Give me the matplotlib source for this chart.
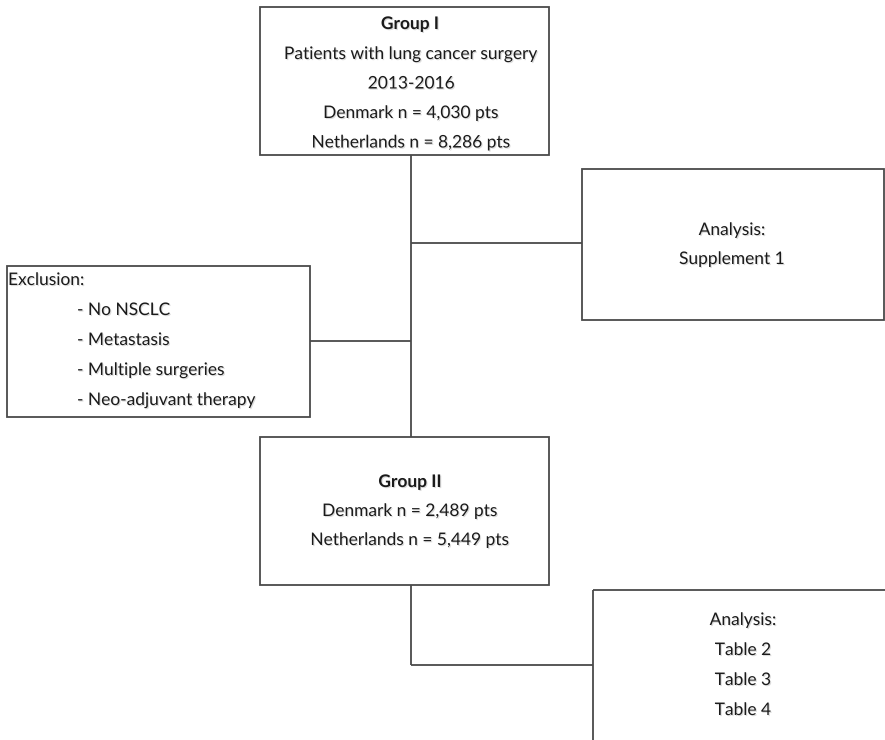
import matplotlib
matplotlib.use("Agg")
from matplotlib import pyplot as plt
from matplotlib.patches import Rectangle
import matplotlib.patheffects as pe

plt.rcParams['font.family'] = ['Lato', 'DejaVu Sans']

# texts of the flow chart
group1_title = 'Group I'
group1_lines = ['Patients with lung cancer surgery', '2013-2016',
                'Denmark n = 4,030 pts', 'Netherlands n = 8,286 pts']
excl_title = 'Exclusion:'
excl_items = ['- No NSCLC', '- Metastasis', '- Multiple surgeries', '- Neo-adjuvant therapy']
supp_lines = ['Analysis:', 'Supplement 1']
group2_title = 'Group II'
group2_lines = ['Denmark n = 2,489 pts', 'Netherlands n = 5,449 pts']
tab_lines = ['Analysis:', 'Table 2', 'Table 3', 'Table 4']

fig = plt.figure(figsize=(8.85, 7.4), dpi=100)
ax = fig.add_axes([0, 0, 1, 1])
ax.set_xlim(0, 885)
ax.set_ylim(740, 0)
ax.axis('off')

ec = '#4a4a4a'
lw = 1.3
fs = 12.5
shadow = [pe.withSimplePatchShadow(offset=(0.8, -0.8), shadow_rgbFace='#999999', alpha=0.35)]

def box(x0, y0, x1, y1):
    ax.add_patch(Rectangle((x0, y0), x1 - x0, y1 - y0, fill=False, ec=ec, lw=lw, zorder=2))

def line(xs, ys):
    ax.plot(xs, ys, color=ec, lw=lw, solid_capstyle='butt', zorder=1)

def txt(x, y, s, ha='center', **kw):
    ax.text(x, y, s, ha=ha, va='center', fontsize=fs, color='#1a1a1a',
            path_effects=shadow, **kw)

# boxes
box(260, 7, 549, 155)
box(582, 169, 884, 320)
box(7, 266, 310, 417)
box(260, 437, 549, 585)
box(593, 590, 900, 760)

# connectors
line([411, 411], [155, 437])
line([411, 582], [243, 243])
line([310, 411], [341, 341])
line([411, 411], [585, 665])
line([411, 593], [665, 665])

# group I
txt(410, 24, group1_title, fontweight='bold')
for i, t in enumerate(group1_lines):
    txt(411, 54 + i * 29.5, t)

# exclusion
txt(8, 280, excl_title, ha='left')
for i, t in enumerate(excl_items):
    txt(77, 310 + i * 30, t, ha='left')

# supplement
for i, t in enumerate(supp_lines):
    txt(732, 230 + i * 29, t)

# group II
txt(410, 482, group2_title, fontweight='bold')
for i, t in enumerate(group2_lines):
    txt(410, 511 + i * 29, t)

# tables
for i, t in enumerate(tab_lines):
    txt(743, 620 + i * 30, t)

fig.savefig('out.png', dpi=100, facecolor='white')
